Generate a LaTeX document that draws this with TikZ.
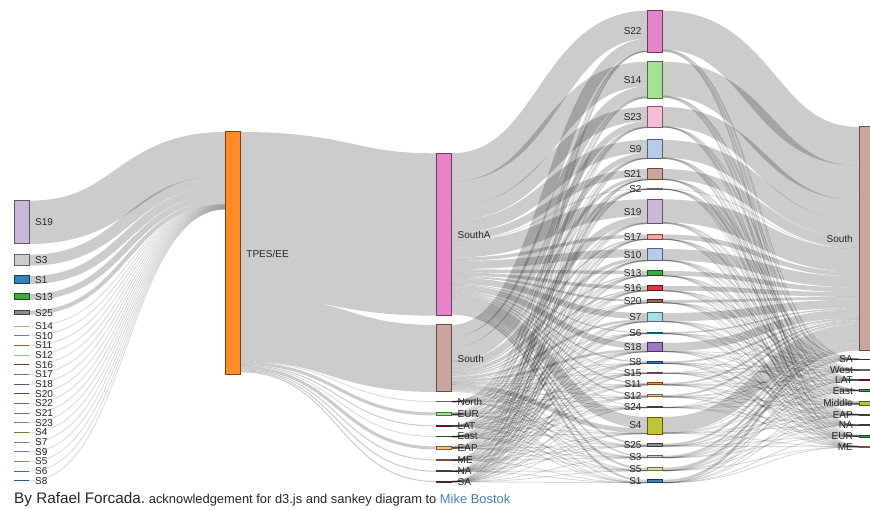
\documentclass[tikz,border=0pt]{standalone}
\usepackage{fontspec}
\setmainfont{Liberation Sans}
\usetikzlibrary{backgrounds}
% category20 palette
\definecolor{cPink}{HTML}{E377C2}
\definecolor{cLtGreen}{HTML}{98DF8A}
\definecolor{cLtPink}{HTML}{F7B6D2}
\definecolor{cLtBlue}{HTML}{AEC7E8}
\definecolor{cLtBrown}{HTML}{C49C94}
\definecolor{cLtGray}{HTML}{C7C7C7}
\definecolor{cLavender}{HTML}{C5B0D5}
\definecolor{cLtRed}{HTML}{FF9896}
\definecolor{cGreen}{HTML}{2CA02C}
\definecolor{cRed}{HTML}{D62728}
\definecolor{cBrown}{HTML}{8C564B}
\definecolor{cLtCyan}{HTML}{9EDAE5}
\definecolor{cCyan}{HTML}{17BECF}
\definecolor{cPurple}{HTML}{9467BD}
\definecolor{cBlue}{HTML}{1F77B4}
\definecolor{cOrange}{HTML}{FF7F0E}
\definecolor{cLtOrange}{HTML}{FFBB78}
\definecolor{cGray}{HTML}{7F7F7F}
\definecolor{cOlive}{HTML}{BCBD22}
\definecolor{cLtOlive}{HTML}{DBDB8D}
\definecolor{cLink}{HTML}{4682B4}
\tikzset{
  sk/.style={draw=#1!49!black, fill=#1, fill opacity=0.9, line width=1pt,
    inner sep=0pt, outer sep=0pt, minimum width=15pt, anchor=north west},
  sktiny/.style={draw=#1!55!black!88!white, line width=0.9pt,
    inner sep=0pt, outer sep=0pt, minimum width=15pt, anchor=north west},
  lbl/.style={font=\fontsize{10}{12}\selectfont, text=black!85, inner sep=0pt},
  flow/.style={draw=black, draw opacity=0.2},
  thinflow/.style={draw=black, draw opacity=0.14, line width=0.9pt},
}
% draws one flow band of width #1 (px); thin bands become hairlines
\newcommand\skflow[3]{%
  \pgfmathparse{#1<1?1:0}%
  \ifnum\pgfmathresult=1
    \draw[thinflow] #2 .. controls +(98.1,0) and +(-98.1,0) .. #3;
  \else
    \draw[flow, line width=#1pt] #2 .. controls +(98.1,0) and +(-98.1,0) .. #3;
  \fi}
\begin{document}
\begin{tikzpicture}[x=1pt,y=-1pt]
\useasboundingbox (0,0) rectangle (870,510);

% ---------- column 1: source sectors ----------
\foreach \nn/\yy/\hh/\cc in {S19/200.7/43.3/cLavender, S3/254.7/11/cLtGray,
    S1/276/8/cBlue, S13/294/6/cGreen, S25/310.7/4/cGray}{
  \node[sk=\cc, minimum height=\hh pt] (a-\nn) at (14,\yy) {};
  \node[lbl, anchor=west] (a-\nn-t) at ([xshift=6pt]a-\nn.east) {\nn};
}
\foreach \nn/\cc [count=\ii from 0] in {S14/cLtGreen, S10/cLtBlue, S11/cOrange,
    S12/cLtOrange, S16/cRed, S17/cLtRed, S18/cPurple, S20/cBrown, S22/cPink,
    S21/cLtBrown, S23/cLtPink, S4/cOlive, S7/cLtCyan, S9/cLtBlue, S5/cLtOlive,
    S6/cCyan, S8/cBlue}{
  \pgfmathsetmacro\yy{326+9.67*\ii}
  \node[sktiny=\cc, minimum height=0pt] (a-\nn) at (14,\yy) {};
  \node[lbl, anchor=west] (a-\nn-t) at ([xshift=6pt]a-\nn.east) {\nn};
}

% ---------- column 2 ----------
\node[sk=cOrange, minimum height=243pt] (tpes) at (225.25,132) {};
\node[lbl, anchor=west] (tpes-t) at ([xshift=6pt]tpes.east) {TPES/EE};

% ---------- column 3: regions ----------
\node[sk=cPink, minimum height=162.4pt] (c-SouthA) at (436.5,153.3) {};
\node[sk=cLtBrown, minimum height=67pt] (c-South) at (436.5,325) {};
\foreach \nn/\yy/\hh/\cc in {North/401.6/0.5/cLtGray, EUR/414/3/cLtGreen,
    LAT/426/1/cRed, East/436.6/0.5/cGreen, EAP/448/3/cLtOrange, ME/460/1/cLtRed,
    NA/471.3/1/cPurple, SA/481.6/1/cBrown}{
  \pgfmathsetmacro\ytop{\yy-\hh/2}
  \node[sk=\cc, minimum height=\hh pt] (c-\nn) at (436.5,\ytop) {};
}
\foreach \nn in {SouthA,South,North,EUR,LAT,East,EAP,ME,NA,SA}{
  \node[lbl, anchor=west] (c-\nn-t) at ([xshift=6pt]c-\nn.east) {\nn};
}

% ---------- column 4: sectors ----------
\foreach \nn/\yy/\hh/\cc in {S22/10.7/41.6/cPink, S14/61.7/36.6/cLtGreen,
    S23/107/21/cLtPink, S9/140/19/cLtBlue, S21/169/11/cLtBrown, S2/188.7/0.6/cLtGray,
    S19/199.3/24.7/cLavender, S17/234.5/5/cLtRed, S10/249/12/cLtBlue,
    S13/271/5/cGreen, S16/286/5/cRed, S20/300/3/cBrown, S7/313/9/cLtCyan,
    S6/332.2/1.5/cCyan, S18/343/9/cPurple, S8/361.5/2/cBlue, S15/372.6/0.7/cPink,
    S11/383/2/cOrange, S12/395/2/cLtOrange, S24/406.8/0.8/cGray, S4/417/17/cOlive,
    S25/443.7/2.5/cGray, S3/455.8/2/cLtGray, S5/467.8/3/cLtOlive, S1/479.8/3/cBlue}{
  \node[sk=\cc, minimum height=\hh pt] (d-\nn) at (647.75,\yy) {};
  \node[lbl, anchor=east] (d-\nn-t) at ([xshift=-6pt]d-\nn.west) {\nn};
}

% ---------- column 5: regions ----------
\node[sk=cLtBrown, minimum height=224pt] (e-South) at (859,127) {};
\node[lbl, anchor=east] (e-South-t) at ([xshift=-6pt]e-South.west) {South};
\foreach \nn/\yy/\hh/\cc in {SA/359.3/0.5/cBrown, West/370/0.5/cLtGray,
    LAT/380/1/cRed, East/390.7/2/cGreen, Middle/403.3/4.5/cOlive,
    EAP/414.7/1/cGray, NA/425.3/1/cPurple, EUR/436/2/cGreen, ME/446.7/1.3/cLtRed}{
  \pgfmathsetmacro\ytop{\yy-\hh/2}
  \node[sk=\cc, minimum height=\hh pt] (e-\nn) at (859,\ytop) {};
  \node[lbl, anchor=east] (e-\nn-t) at ([xshift=-6pt]e-\nn.west) {\nn};
}

% ---------- flows ----------
\begin{scope}[on background layer]
% column 1 -> TPES/EE
\xdef\toff{0}
\foreach \nn/\ww in {S19/43.3,S3/11,S1/8,S13/6,S25/4,S14/0.3,S10/0.3,S11/0.3,
    S12/0.3,S16/0.3,S17/0.3,S18/0.3,S20/0.3,S22/0.3,S21/0.3,S23/0.3,S4/0.3,
    S7/0.3,S9/0.3,S5/0.3,S6/0.3,S8/0.3}{
  \pgfmathsetmacro\sy{\ww/2}
  \pgfmathsetmacro\ty{\toff+\ww/2}
  \skflow{\ww}{([yshift=-\sy pt]a-\nn.north east)}{([yshift=-\ty pt]tpes.north west)}
  \pgfmathsetmacro\tmp{\toff+\ww}
  \xdef\toff{\tmp}
}
% TPES/EE -> column 3
\xdef\soff{0}
\foreach \nn/\ww in {SouthA/162.4,South/67,North/0.5,EUR/3,LAT/1,East/0.5,
    EAP/3,ME/1,NA/1,SA/1}{
  \pgfmathsetmacro\sy{\soff+\ww/2}
  \pgfmathsetmacro\ty{\ww/2}
  \skflow{\ww}{([yshift=-\sy pt]tpes.north east)}{([yshift=-\ty pt]c-\nn.north west)}
  \pgfmathsetmacro\tmp{\soff+\ww}
  \xdef\soff{\tmp}
}
% column 3 -> column 4
\foreach \rn in {SouthA,South,North,EUR,LAT,East,EAP,ME,NA,SA}{
  \expandafter\xdef\csname off\rn\endcsname{0}}
\foreach \sn/\sh [count=\si] in {S22/41.6,S14/36.6,S23/21,S9/19,S21/11,S2/0.6,S19/24.7,
    S17/5,S10/12,S13/5,S16/5,S20/3,S7/9,S6/1.5,S18/9,S8/2,S15/0.7,S11/2,S12/2,
    S24/0.8,S4/17,S25/2.5,S3/2,S5/3,S1/3}{
  \xdef\toff{0}
  \foreach \rn/\rf [count=\ri] in {SouthA/0.675,South/0.28,North/0.002,EUR/0.0125,
      LAT/0.0042,East/0.002,EAP/0.0125,ME/0.0042,NA/0.0042,SA/0.0042}{
    \pgfmathparse{(\ri>2 && mod(\si*7+\ri*3,4)==0) ? 0 : 1}
    \ifnum\pgfmathresult=1
    \edef\so{\csname off\rn\endcsname}
    \pgfmathsetmacro\ww{\sh*\rf}
    \pgfmathsetmacro\sy{\so+\ww/2}
    \pgfmathsetmacro\ty{\toff+\ww/2}
    \skflow{\ww}{([yshift=-\sy pt]c-\rn.north east)}{([yshift=-\ty pt]d-\sn.north west)}
    \pgfmathsetmacro\tmp{\so+\ww}
    \expandafter\xdef\csname off\rn\endcsname{\tmp}
    \pgfmathsetmacro\tmp{\toff+\ww}
    \xdef\toff{\tmp}
    \fi
  }
}
% column 4 -> column 5
\foreach \rn in {South,SA,West,LAT,East,Middle,EAP,NA,EUR,ME}{
  \expandafter\xdef\csname in\rn\endcsname{0}}
\foreach \sn/\sh [count=\si] in {S22/41.6,S14/36.6,S23/21,S9/19,S21/11,S2/0.6,S19/24.7,
    S17/5,S10/12,S13/5,S16/5,S20/3,S7/9,S6/1.5,S18/9,S8/2,S15/0.7,S11/2,S12/2,
    S24/0.8,S4/17,S25/2.5,S3/2,S5/3,S1/3}{
  \xdef\soff{0}
  \foreach \rn/\rf [count=\ri] in {South/0.936,SA/0.002,West/0.002,LAT/0.0042,East/0.0084,
      Middle/0.0188,EAP/0.0042,NA/0.0042,EUR/0.0084,ME/0.0054}{
    \pgfmathparse{(\ri>1 && mod(\si*5+\ri*2,3)==0) ? 0 : 1}
    \ifnum\pgfmathresult=1
    \edef\ti{\csname in\rn\endcsname}
    \pgfmathsetmacro\ww{\sh*\rf}
    \pgfmathsetmacro\sy{\soff+\ww/2}
    \pgfmathsetmacro\ty{\ti+\ww/2}
    \skflow{\ww}{([yshift=-\sy pt]d-\sn.north east)}{([yshift=-\ty pt]e-\rn.north west)}
    \pgfmathsetmacro\tmp{\ti+\ww}
    \expandafter\xdef\csname in\rn\endcsname{\tmp}
    \pgfmathsetmacro\tmp{\soff+\ww}
    \xdef\soff{\tmp}
    \fi
  }
}
\end{scope}

% ---------- credit line ----------
\node[anchor=base west, inner sep=0pt, text=black!85] (credit) at (14,503)
  {{\fontsize{15.3}{18}\selectfont By Rafael Forcada.} {\fontsize{12.9}{15}\selectfont acknowledgement for d3.js and sankey diagram to \textcolor{cLink}{Mike Bostok}}};
\end{tikzpicture}
\end{document}
